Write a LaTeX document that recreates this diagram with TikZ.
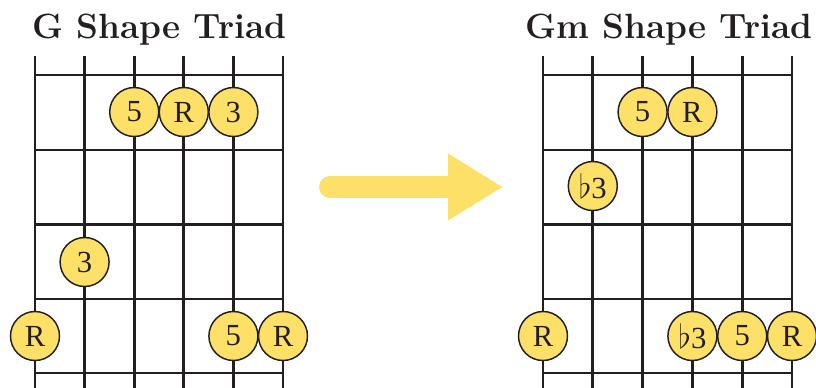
\documentclass[tikz,border=0pt]{standalone}
\usepackage{amsmath}
\usepackage{amssymb}
\usepackage{fontspec}
\newfontfamily\notefont{Liberation Serif}
\usepackage{tikz}
\usetikzlibrary{positioning,arrows.meta}
\definecolor{dotyellow}{HTML}{FDE068}
\definecolor{ink}{HTML}{231F20}

\begin{document}
\begin{tikzpicture}[x=0.75pt,y=-0.75pt,
    wire/.style={draw=ink,line width=2pt},
    note/.style={inner sep=0pt,minimum size=36.75pt,circle,draw=ink,line width=1.1pt,fill=dotyellow,text=ink,font=\notefont\fontsize{23}{23}\selectfont},
    title/.style={anchor=base,text=ink,font=\fontsize{26.3}{26.3}\selectfont\bfseries}]
  \useasboundingbox (0,0) rectangle (816,387);

  % G shape
  \node[title](gtitle) at (159.5,38){G Shape Triad};
  \foreach \x in {35,84.6,134.2,183.8,233.4,283}
    \draw[wire] (\x,56) -- (\x,390);
  \foreach \y in {75,150,224.5,299,373}
    \draw[wire] (35,\y) -- (283,\y);
  \node[note](g5) at (134.2,112){5};
  \node[note](gr) at (183.8,112){R};
  \node[note](g3) at (233.4,112){3};
  \node[note](g3b) at (84.6,262){3};
  \node[note](grlow) at (35,336){R};
  \node[note](g5low) at (233.4,336){5};
  \node[note](grhigh) at (283,336){R};

  % Gm shape
  \node[title](gmtitle) at (669,38){Gm Shape Triad};
  \foreach \x in {543,592.8,642.6,692.4,742.2,792}
    \draw[wire] (\x,56) -- (\x,390);
  \foreach \y in {75,150,224.5,299,373}
    \draw[wire] (543,\y) -- (792,\y);
  \node[note](gm5) at (642.6,112){5};
  \node[note](gmr) at (692.4,112){R};
  \node[note](gmb3) at (592.8,186){$\flat$3};
  \node[note](gmrlow) at (543,336){R};
  \node[note](gmb3low) at (692.4,336){$\flat$3};
  \node[note](gm5low) at (742.2,336){5};
  \node[note](gmrhigh) at (792,336){R};

  % arrow
  \coordinate (from) at (330,187);
  \coordinate (to) at (503,187);
  \draw[dotyellow,line width=16.5pt,line cap=round,-{Triangle[length=41.25pt,width=47.25pt]}] (from) -- (to);
\end{tikzpicture}
\end{document}
